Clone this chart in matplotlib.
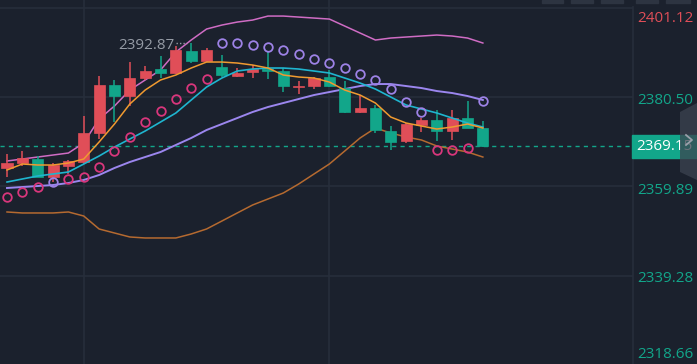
import numpy as np
import matplotlib.pyplot as plt
from matplotlib.patches import Rectangle, Polygon
from matplotlib.lines import Line2D

# --- data ---
opens = [2364.10, 2365.26, 2366.18, 2362.02, 2364.56, 2365.49, 2372.19, 2383.27, 2380.73, 2384.89,
         2386.97, 2386.04, 2391.12, 2388.81, 2387.43, 2385.35, 2386.27, 2386.97, 2386.50, 2382.81,
         2383.04, 2385.12, 2382.58, 2377.04, 2377.96, 2372.65, 2370.34, 2374.03, 2375.19, 2372.65,
         2375.65, 2373.34]
closes = [2365.26, 2366.41, 2362.02, 2364.80, 2365.72, 2372.19, 2383.27, 2380.73, 2384.89, 2386.50,
          2386.04, 2391.35, 2388.81, 2391.35, 2385.58, 2386.04, 2386.97, 2386.50, 2383.04, 2383.04,
          2384.89, 2383.04, 2377.04, 2377.96, 2372.88, 2370.11, 2374.26, 2375.19, 2372.65, 2375.65,
          2373.34, 2369.15]
highs = [2367.34, 2368.03, 2366.87, 2365.26, 2365.95, 2376.11, 2385.35, 2384.43, 2388.58, 2387.66,
         2389.97, 2392.20, 2392.87, 2391.82, 2390.20, 2387.20, 2387.89, 2390.89, 2387.20, 2384.20,
         2385.12, 2386.74, 2384.20, 2380.96, 2378.65, 2373.80, 2374.50, 2375.65, 2377.50, 2377.50,
         2379.58, 2374.96]
lows = [2362.02, 2364.56, 2362.02, 2360.87, 2362.72, 2365.03, 2370.80, 2374.73, 2378.42, 2384.43,
        2384.89, 2385.81, 2388.35, 2388.58, 2385.12, 2385.12, 2384.89, 2384.66, 2381.65, 2381.19,
        2382.35, 2382.81, 2376.81, 2376.81, 2372.19, 2368.26, 2369.88, 2372.42, 2370.34, 2370.57,
        2373.34, 2369.00]

boll_up = [2365.76, 2366.22, 2366.68, 2367.14, 2367.60, 2369.91, 2375.43, 2378.43, 2382.11, 2384.42,
           2386.72, 2390.86, 2393.63, 2396.16, 2397.08, 2397.77, 2398.23, 2399.15, 2399.15, 2398.92,
           2398.69, 2398.46, 2396.85, 2395.24, 2393.63, 2394.09, 2394.32, 2394.55, 2394.78, 2394.55,
           2394.09, 2392.94]
boll_mid = [2359.54, 2359.77, 2360.00, 2360.23, 2360.69, 2361.39, 2362.54, 2364.15, 2365.53, 2366.68,
            2367.83, 2369.45, 2371.06, 2372.90, 2374.28, 2375.66, 2377.05, 2378.20, 2379.12, 2380.04,
            2380.96, 2381.65, 2382.34, 2383.03, 2383.49, 2383.49, 2383.03, 2382.57, 2381.88, 2381.42,
            2380.73, 2379.81]
boll_low = [2354.02, 2353.79, 2353.79, 2353.79, 2354.02, 2353.09, 2350.10, 2349.18, 2348.26, 2348.03,
            2348.03, 2348.03, 2348.95, 2350.10, 2351.94, 2353.79, 2355.63, 2357.01, 2358.39, 2360.46,
            2362.77, 2365.07, 2368.06, 2371.06, 2373.36, 2372.21, 2371.29, 2370.60, 2369.22, 2368.52,
            2367.83, 2366.68]
ma_fast = [2363.69, 2365.07, 2364.84, 2364.84, 2365.30, 2366.22, 2370.14, 2374.28, 2378.89, 2382.11,
           2384.42, 2385.57, 2387.18, 2388.56, 2388.56, 2388.33, 2387.87, 2387.18, 2385.57, 2385.11,
           2384.88, 2383.95, 2382.11, 2380.96, 2379.12, 2375.89, 2374.51, 2373.82, 2373.13, 2373.59,
           2374.28, 2373.36]
ma_slow = [2360.92, 2361.62, 2362.31, 2362.77, 2363.23, 2365.07, 2366.91, 2368.98, 2370.83, 2372.67,
           2374.74, 2376.82, 2379.81, 2382.80, 2384.88, 2386.49, 2386.95, 2387.18, 2387.18, 2386.95,
           2386.49, 2386.03, 2384.88, 2383.72, 2382.34, 2380.50, 2378.66, 2377.74, 2376.82, 2375.66,
           2374.51, 2373.59]
sar = [2357.47, 2358.62, 2359.77, 2360.92, 2361.62, 2362.08, 2364.38, 2368.06, 2371.29, 2374.74,
       2377.28, 2380.04, 2382.57, 2384.65, 2392.94, 2392.94, 2392.48, 2392.02, 2391.32, 2390.40,
       2389.25, 2388.33, 2387.18, 2385.80, 2384.42, 2382.34, 2379.35, 2377.05, 2368.29, 2368.29,
       2368.75, 2379.58]

axis_labels = ['2401.12', '2380.50', '2359.89', '2339.28', '2318.66']
last_price = 2369.15

# --- colours ---
bg = '#1b212d'
grid_c = '#272e3b'
up_c = '#e04e58'
down_c = '#12a68a'

W, H = 697, 364
fig = plt.figure(figsize=(W / 100, H / 100), dpi=100)
fig.patch.set_facecolor(bg)
ax = fig.add_axes([0, 0, 633 / W, 1])
ax.set_facecolor(bg)

n = len(opens)
x = np.arange(n)
o = np.array(opens); c = np.array(closes)
hi = np.array(highs); lo = np.array(lows)

ax.set_xlim(-0.456, 40.78)
ax.set_ylim(2319.0, 2402.85)
for s in ax.spines.values():
    s.set_visible(False)
ax.set_xticks([]); ax.set_yticks([])

# grid
for lab in axis_labels:
    ax.axhline(float(lab), color=grid_c, lw=1.2, zorder=0)
for gi in (5, 21):
    ax.axvline(gi, color=grid_c, lw=1.2, zorder=0)

# bollinger / MAs
ax.plot(x, boll_up, color='#cf6cc4', lw=1.1, zorder=2)
ax.plot(x, boll_low, color='#b56a30', lw=1.1, zorder=2)
ax.plot(x, boll_mid, color='#9b86ee', lw=1.4, zorder=2)
ax.plot(x, ma_slow, color='#1fb5cf', lw=1.2, zorder=4)
ax.plot(x, ma_fast, color='#f09a30', lw=1.1, zorder=4)

# candles
up = c >= o
cols = np.where(up, up_c, down_c)
ax.vlines(x, lo, hi, colors=cols, lw=1.1, zorder=3)
body_b = np.minimum(o, c)
body_h = np.maximum(np.abs(c - o), 0.3)
ax.bar(x, body_h, bottom=body_b, width=0.72, color=cols, edgecolor=cols, lw=0.5, zorder=3)

# parabolic SAR
sar = np.array(sar)
below = sar < np.array(lows) + 0.01
ax.plot(x[below], sar[below], 'o', mfc='none', mec='#d9367c', ms=6.2, mew=1.3, zorder=5)
ax.plot(x[~below], sar[~below], 'o', mfc='none', mec='#9d82e6', ms=6.2, mew=1.3, zorder=5)

# last price dashed line
ax.axhline(last_price, color=down_c, lw=1, ls=(0, (3, 3)), zorder=1)

# max label
hi_i = int(np.argmax(hi))
ax.text(hi_i - 1.1, hi[hi_i] - 0.6, f'{hi[hi_i]:.2f}', color='#959ba5', fontsize=11,
        family='Open Sans', ha='right', va='center', zorder=6)
ax.plot([hi_i - 1.0, hi_i - 0.3], [hi[hi_i], hi[hi_i]], color='#959ba5', lw=1, ls=(0, (1, 1.5)), zorder=6)

# right price axis
fig.add_artist(Line2D([632.5 / W, 632.5 / W], [0, 1 - 7 / H], color=grid_c, lw=1.2))
label_y = [19, 100, 190, 278, 355]
for lab, yy in zip(axis_labels, label_y):
    col = up_c if lab == axis_labels[0] else down_c
    fig.text(637 / W, 1 - yy / H, lab, color=col, fontsize=11, family='Open Sans',
             ha='left', va='center')

# last price tag
fig.add_artist(Rectangle((632 / W, 1 - 158 / H), 65 / W, 23 / H, transform=fig.transFigure,
                         color=down_c, zorder=5))
fig.text(636 / W, 1 - 147 / H, f'{last_price:.2f}', color='white', fontsize=11,
         family='Open Sans', ha='left', va='center', zorder=6)

# side handle panel
panel = Polygon([(680 / W, 1 - 112 / H), (697 / W, 1 - 103 / H), (697 / W, 1 - 180 / H),
                 (680 / W, 1 - 172 / H)], closed=True, transform=fig.transFigure,
                facecolor='#3c4350', alpha=0.75, edgecolor='none', zorder=7)
fig.add_artist(panel)
fig.add_artist(Line2D([686 / W, 692 / W, 686 / W], [1 - 135 / H, 1 - 140 / H, 1 - 145 / H],
                      color='#9aa0aa', lw=1.3, zorder=8))

# top toolbar stubs
for bx, bw in [(542, 21), (571, 22), (601, 22), (636, 22), (666, 24)]:
    fig.add_artist(Rectangle((bx / W, 1 - 3 / H), bw / W, 3 / H, transform=fig.transFigure,
                             color='#2d3441', zorder=5))

fig.savefig('out.png', dpi=100, facecolor=bg)
